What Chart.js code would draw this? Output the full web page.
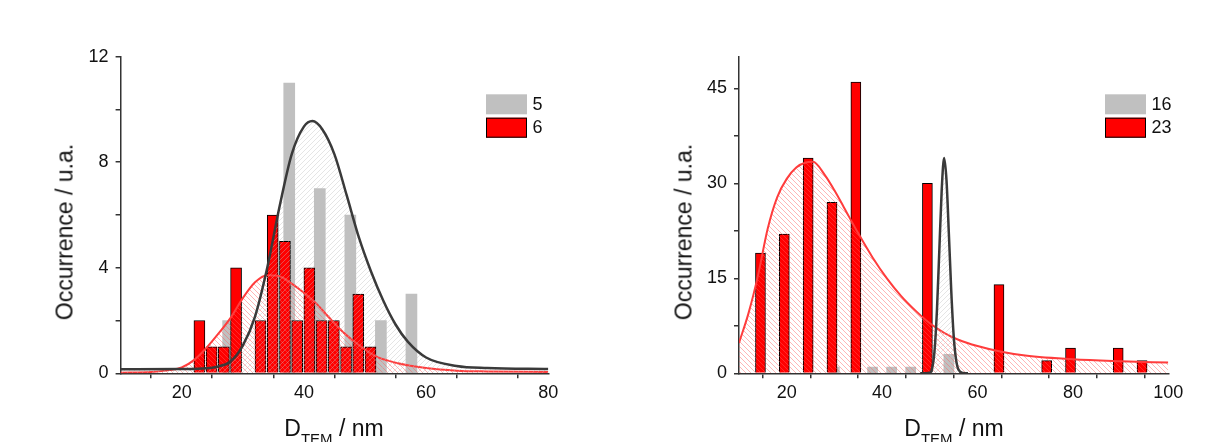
<!DOCTYPE html>
<html>
<head>
<meta charset="utf-8">
<script src="https://cdn.jsdelivr.net/npm/chart.js@4.4.1/dist/chart.umd.min.js"></script>
<style>
  html, body { margin: 0; padding: 0; background: #fff; }
  #wrap { position: relative; width: 1226px; height: 442px; overflow: hidden;
          font-family: "Liberation Sans", Arial, sans-serif; color: #111; }
  canvas { position: absolute; top: 0; }
  .ytitle { position: absolute; top: 232px; font-size: 23px; white-space: nowrap;
            transform: translate(-50%, -50%) rotate(-90deg); }
  .xtitle { position: absolute; top: 417px; font-size: 23px; line-height: 23px; white-space: nowrap;
            transform: translateX(-50%); }
  .xtitle sub { font-size: 15px; vertical-align: -8px; line-height: 0; }
</style>
</head>
<body>
<div id="wrap">
  <canvas id="left_chart" width="613" height="442" style="left:0"></canvas>
  <canvas id="right_chart" width="613" height="442" style="left:613px"></canvas>
  <div class="ytitle" style="left:65px">Occurrence / u.a.</div>
  <div class="ytitle" style="left:684px">Occurrence / u.a.</div>
  <div class="xtitle" style="left:334px">D<sub>TEM</sub> / nm</div>
  <div class="xtitle" style="left:954px">D<sub>TEM</sub> / nm</div>
</div>
<script>
// --- panel izquierdo: muestras 5 y 6 ---
const leftLabels = ['5', '6'];
const leftBins5 = [27.6, 32.6, 37.6, 42.6, 47.6, 52.6, 57.6];
const leftCounts5 = [2, 0, 11, 7, 6, 2, 3];
const leftBins6 = [22.9, 24.9, 26.9, 28.9, 30.9, 32.9, 34.9, 36.9, 38.9, 40.9, 42.9, 44.9, 46.9, 48.9, 50.9];
const leftCounts6 = [2, 1, 1, 4, 0, 2, 6, 5, 2, 4, 2, 2, 1, 3, 1];
const leftFit5X = [10, 20, 24, 26, 28, 30, 32, 34, 36, 38, 40, 41.4, 43, 45, 47, 49, 51, 53, 55, 57, 60, 65, 70, 80];
const leftFit5Y = [0.15, 0.16, 0.19, 0.26, 0.45, 1.05, 2.15, 4.0, 6.3, 8.3, 9.35, 9.56, 9.25, 8.3, 6.75, 5.15, 3.85, 2.75, 1.85, 1.2, 0.6, 0.28, 0.2, 0.16];
const leftFit6X = [10, 15, 18, 20, 22, 24, 26, 28, 30, 32, 34, 36, 38, 40, 42, 44, 46, 48, 50, 52, 55, 60, 65, 70, 80];
const leftFit6Y = [0.02, 0.05, 0.12, 0.22, 0.5, 0.95, 1.5, 2.1, 2.85, 3.45, 3.72, 3.68, 3.4, 3.05, 2.65, 2.15, 1.65, 1.25, 0.9, 0.62, 0.4, 0.2, 0.1, 0.07, 0.05];
const leftXTicks = [20, 40, 60, 80];
const leftYTicks = [0, 4, 8, 12];

// --- panel derecho: muestras 16 y 23 ---
const rightLabels = ['16', '23'];
const rightBins16 = [30, 34, 38, 42, 46, 50, 54];
const rightCounts16 = [1, 0, 1, 1, 1, 0, 3];
const rightBins23 = [14.5, 19.5, 24.5, 29.5, 34.5, 39.5, 44.5, 49.5, 54.5, 59.5, 64.5, 69.5, 74.5, 79.5, 84.5, 89.5, 94.5];
const rightCounts23 = [19, 22, 34, 27, 46, 0, 0, 30, 0, 0, 14, 0, 2, 4, 0, 4, 2];
const rightFit16X = [48, 50, 50.5, 51, 51.5, 52, 52.5, 53, 53.5, 54, 54.5, 55, 55.5, 56, 57, 58];
const rightFit16Y = [0, 0.1, 0.8, 3.6, 10, 19.5, 29, 34, 30.5, 22, 13, 6, 2.2, 0.6, 0.05, 0];
const rightFit23X = [10, 12, 14, 16, 18, 20, 22, 24, 25.5, 28, 30, 32, 35, 38, 41, 44, 47, 50, 53, 56, 60, 65, 70, 80, 90, 100];
const rightFit23Y = [4.8, 9.5, 15.5, 22.8, 27.8, 30.7, 32.5, 33.3, 33.4, 31.3, 28.9, 26.2, 22.1, 18.3, 15.0, 12.2, 9.9, 7.9, 6.4, 5.3, 4.3, 3.4, 2.8, 2.2, 1.9, 1.7];
const rightXTicks = [20, 40, 60, 80, 100];
const rightYTicks = [0, 15, 30, 45];

const FONT = '"Liberation Sans", Arial, sans-serif';
Chart.defaults.font.family = FONT;
Chart.defaults.color = '#111';

const pts = (xs, ys) => xs.map((x, i) => ({ x: x, y: ys[i] === 0 ? null : ys[i] }));
const curve = (xs, ys) => xs.map((x, i) => ({ x: x, y: ys[i] }));

function hatch(color, dir) {
  const c = document.createElement('canvas');
  c.width = 5; c.height = 5;
  const g = c.getContext('2d');
  g.strokeStyle = color;
  g.lineWidth = 1;
  g.beginPath();
  if (dir > 0) {
    g.moveTo(-1, 6); g.lineTo(6, -1);
  } else {
    g.moveTo(-1, -1); g.lineTo(6, 6);
  }
  g.stroke();
  return g.createPattern(c, 'repeat');
}

const boxLegend = {
  id: 'boxLegend',
  afterDatasetsDraw(chart, args, opts) {
    const { ctx, chartArea } = chart;
    const x = chartArea.right - opts.dx;
    const y0 = chartArea.top + opts.dy;
    chart.data.datasets.filter(d => d.type === 'bar').forEach((d, i) => {
      const y = y0 + i * 23.4;
      ctx.save();
      ctx.fillStyle = d.backgroundColor;
      ctx.fillRect(x, y, 41, 20);
      if (d.borderWidth) {
        ctx.strokeStyle = d.borderColor;
        ctx.lineWidth = 1;
        ctx.strokeRect(x + 0.5, y + 0.5, 40, 19);
      }
      ctx.fillStyle = '#111';
      ctx.font = '18px ' + FONT;
      ctx.textBaseline = 'middle';
      ctx.fillText(d.label, x + 46.5, y + 10.5);
      ctx.restore();
    });
  }
};

function makePanel(id, cfg) {
  const axisStyle = {
    border: { color: '#333', width: 1.5 },
    grid: { drawOnChartArea: false, drawTicks: true, tickLength: 5, color: '#333', lineWidth: 1.5 }
  };
  return new Chart(document.getElementById(id), {
    type: 'bar',
    data: {
      datasets: [
        {
          type: 'bar', label: cfg.labels[0], data: pts(cfg.binsA, cfg.countsA),
          backgroundColor: '#c0c0c0', borderColor: '#c0c0c0', borderWidth: 0,
          barThickness: cfg.barA, grouped: false, order: 5
        },
        {
          type: 'bar', label: cfg.labels[1], data: pts(cfg.binsB, cfg.countsB),
          backgroundColor: '#ff0000', borderColor: '#000', borderWidth: 1,
          barThickness: cfg.barB, grouped: false, order: 4
        },
        {
          type: 'line', label: 'fit ' + cfg.labels[1], data: curve(cfg.fitBX, cfg.fitBY),
          borderColor: '#ff3c3c', borderWidth: 2, pointRadius: 0,
          cubicInterpolationMode: 'monotone', fill: 'origin',
          backgroundColor: hatch('rgba(255,90,90,0.45)', -1), order: 2
        },
        {
          type: 'line', label: 'fit ' + cfg.labels[0], data: curve(cfg.fitAX, cfg.fitAY),
          borderColor: '#3a3a3a', borderWidth: 2.5, pointRadius: 0,
          cubicInterpolationMode: 'monotone', fill: 'origin',
          backgroundColor: hatch('rgba(190,190,190,0.4)', 1), order: 1
        }
      ]
    },
    options: {
      responsive: false,
      animation: false,
      devicePixelRatio: 1,
      layout: { padding: { left: 0, right: cfg.padRight, top: 56.7, bottom: 0 } },
      plugins: {
        legend: { display: false },
        tooltip: { enabled: false },
        boxLegend: { dx: cfg.legendDx, dy: 37.6 }
      },
      scales: {
        x: {
          type: 'linear', min: cfg.xMin, max: cfg.xMax, offset: false,
          afterFit: s => { s.height = 68.7; },
          ...axisStyle,
          ticks: {
            stepSize: 10, autoSkip: false, maxRotation: 0, padding: 4,
            font: { size: 18 }, color: '#111',
            callback: v => cfg.xTicks.includes(v) ? v : ''
          }
        },
        y: {
          min: 0, max: cfg.yMax,
          afterFit: s => { s.width = cfg.yWidth; },
          ...axisStyle,
          ticks: {
            stepSize: cfg.yStep, includeBounds: false, autoSkip: false, padding: 7,
            font: { size: 18 }, color: '#111',
            callback: v => cfg.yTicks.includes(v) ? v : ''
          }
        }
      }
    },
    plugins: [boxLegend]
  });
}

makePanel('left_chart', {
  labels: leftLabels,
  binsA: leftBins5, countsA: leftCounts5, binsB: leftBins6, countsB: leftCounts6,
  fitAX: leftFit5X, fitAY: leftFit5Y, fitBX: leftFit6X, fitBY: leftFit6Y,
  xTicks: leftXTicks, yTicks: leftYTicks,
  xMin: 10, xMax: 80, yMax: 12, yStep: 2,
  barA: 11, barB: 11, yWidth: 120.6, padRight: 64.7, legendDx: 62.3
});

makePanel('right_chart', {
  labels: rightLabels,
  binsA: rightBins16, countsA: rightCounts16, binsB: rightBins23, countsB: rightCounts23,
  fitAX: rightFit16X, fitAY: rightFit16Y, fitBX: rightFit23X, fitBY: rightFit23Y,
  xTicks: rightXTicks, yTicks: rightYTicks,
  xMin: 10, xMax: 100, yMax: 50, yStep: 7.5,
  barA: 10, barB: 10, yWidth: 126, padRight: 57.7, legendDx: 63.3
});
</script>
</body>
</html>
